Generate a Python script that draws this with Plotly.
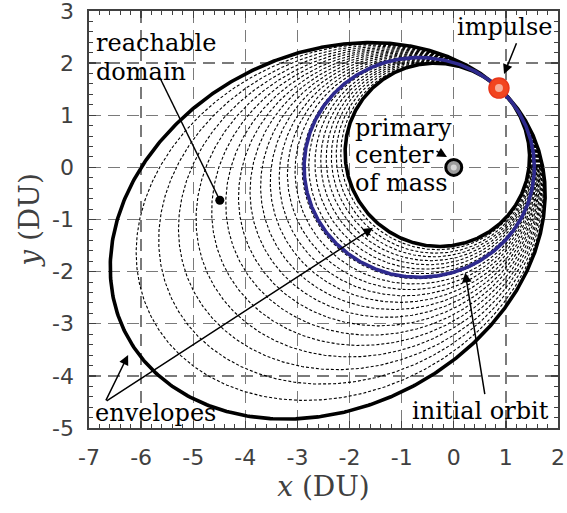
import numpy as np
import plotly.graph_objects as go

# ---------------- data ----------------
mu = 1.0
initial_a = 2.21            # DU, semi-major axis of initial orbit
initial_e = 0.30            # eccentricity of initial orbit
initial_omega_deg = 0.0     # argument of periapsis (deg)
impulse_true_anomaly_deg = 60.3

# speed ratio (v_after / v_before) of the tangential impulse at the impulse point
inner_envelope_ratio = 0.919
outer_envelope_ratio = 1.150
dotted_ratios = [0.9295, 0.9400, 0.9505, 0.9610, 0.9715, 0.9820, 0.9925,
                 1.0030, 1.0135, 1.0240, 1.0345, 1.0450, 1.0555, 1.0660,
                 1.0765, 1.0870, 1.0975, 1.1080, 1.1185, 1.1290, 1.1395]

primary_x = [0.0]
primary_y = [0.0]
reachable_pt_x = [-4.49]
reachable_pt_y = [-0.63]

x_ticks = [-7, -6, -5, -4, -3, -2, -1, 0, 1, 2]
y_ticks = [-5, -4, -3, -2, -1, 0, 1, 2, 3]


# ---------------- orbit helpers ----------------
def state_on_orbit(a, e, om, f):
    p = a * (1 - e ** 2)
    r = p / (1 + e * np.cos(f))
    th = om + f
    R = np.array([r * np.cos(th), r * np.sin(th)])
    vr = np.sqrt(mu / p) * e * np.sin(f)
    vt = np.sqrt(mu / p) * (1 + e * np.cos(f))
    V = vr * np.array([np.cos(th), np.sin(th)]) + vt * np.array([-np.sin(th), np.cos(th)])
    return R, V


def conic_from_state(R, V):
    r = np.linalg.norm(R)
    v2 = V @ V
    h = R[0] * V[1] - R[1] * V[0]
    evec = ((v2 - mu / r) * R - (R @ V) * V) / mu
    e = np.linalg.norm(evec)
    om = np.arctan2(evec[1], evec[0])
    p = h * h / mu
    th = np.linspace(0, 2 * np.pi, 900)
    rr = p / (1 + e * np.cos(th - om))
    return rr * np.cos(th), rr * np.sin(th)


R0, V0 = state_on_orbit(initial_a, initial_e, np.radians(initial_omega_deg),
                        np.radians(impulse_true_anomaly_deg))

fig = go.Figure()

for k in dotted_ratios:
    xs, ys = conic_from_state(R0, k * V0)
    fig.add_trace(go.Scatter(x=xs, y=ys, mode='lines',
                             line=dict(color='black', width=1.1, dash='3px,2px'),
                             hoverinfo='skip'))

for k in (inner_envelope_ratio, outer_envelope_ratio):
    xs, ys = conic_from_state(R0, k * V0)
    fig.add_trace(go.Scatter(x=xs, y=ys, mode='lines',
                             line=dict(color='black', width=3.6), hoverinfo='skip'))

xs, ys = conic_from_state(R0, V0)
fig.add_trace(go.Scatter(x=xs, y=ys, mode='lines',
                         line=dict(color='#2e2a8e', width=3.6), hoverinfo='skip'))

# primary body
fig.add_trace(go.Scatter(x=primary_x, y=primary_y, mode='markers',
                         marker=dict(size=16, color='#9c9c9c', line=dict(color='black', width=3))))
fig.add_trace(go.Scatter(x=primary_x, y=primary_y, mode='markers',
                         marker=dict(size=6, color='#d6d6d6', line=dict(width=0))))
# impulse point
fig.add_trace(go.Scatter(x=[R0[0]], y=[R0[1]], mode='markers',
                         marker=dict(size=20, color='#f2451f', line=dict(color='#e8361a', width=1.5))))
fig.add_trace(go.Scatter(x=[R0[0]], y=[R0[1]], mode='markers',
                         marker=dict(size=8, color='#f8ad98', line=dict(width=0))))
# reachable-domain marker
fig.add_trace(go.Scatter(x=reachable_pt_x, y=reachable_pt_y, mode='markers',
                         marker=dict(size=9, color='black')))

txt_font = dict(family='DejaVu Serif', size=24, color='black')
ann = []


def label(x, y, t, anchor='left'):
    ann.append(dict(x=x, y=y, xref='x', yref='y', text=t, showarrow=False,
                    xanchor=anchor, yanchor='middle', font=txt_font))


def arrow(xh, yh, xt, yt, head=2):
    ann.append(dict(x=xh, y=yh, ax=xt, ay=yt, xref='x', yref='y', axref='x', ayref='y',
                    text='', showarrow=True, arrowhead=head, arrowsize=1.3,
                    arrowwidth=1.5, arrowcolor='black'))


label(-6.90, 2.39, 'reachable')
label(-6.90, 1.83, 'domain')
label(1.93, 2.69, 'impulse', 'right')
label(-1.93, 0.75, 'primary')
label(-1.93, 0.24, 'center')
label(-1.93, -0.30, 'of mass')
label(1.86, -4.68, 'initial orbit', 'right')
label(-6.93, -4.72, 'envelopes')

arrow(0.965, 1.79, 1.215, 2.41)
arrow(-0.13, 0.20, -0.36, 0.33)
arrow(0.22, -2.02, 0.60, -4.38)
arrow(-6.25, -3.60, -6.69, -4.50)
arrow(-1.55, -1.16, -6.69, -4.50)

fig.add_shape(type='line', x0=-5.64, y0=1.72, x1=reachable_pt_x[0], y1=reachable_pt_y[0],
              xref='x', yref='y', line=dict(color='black', width=1.5))

axis_common = dict(
    ticks='inside', ticklen=7, tickwidth=1.3, tickcolor='#404040',
    showline=True, linecolor='#404040', linewidth=1.6, mirror='ticks',
    showgrid=True, gridcolor='#7a7a7a', gridwidth=1.4, griddash='12px,7px',
    zeroline=False, automargin=False, ticklabeloverflow='allow',
    minor=dict(ticks='inside', ticklen=4, tickmode='linear', tick0=0, dtick=0.2,
               tickcolor='#404040', tickwidth=1, showgrid=False),
    tickfont=dict(family='DejaVu Sans', size=22, color='#404040'),
)

fig.update_xaxes(range=[-7.0005, 2.0005], tickmode='array', tickvals=x_ticks,
                 ticktext=[str(v) for v in x_ticks], ticklabelstandoff=9,
                 title=dict(text='<i>x</i> (DU)', standoff=6,
                            font=dict(family='DejaVu Serif', size=28, color='#404040')),
                 **axis_common)
fig.update_yaxes(range=[-5.0005, 3.0005], tickmode='array', tickvals=y_ticks,
                 ticktext=[str(v) for v in y_ticks], ticklabelstandoff=9,
                 title=dict(text='<i>y</i> (DU)', standoff=4,
                            font=dict(family='DejaVu Serif', size=28, color='#404040')),
                 **axis_common)

fig.update_layout(width=567, height=513, autosize=False,
                  margin=dict(l=89, r=9, t=11, b=85, autoexpand=False),
                  plot_bgcolor='white', paper_bgcolor='white',
                  showlegend=False, annotations=ann)

fig.write_html('out.html', config={'displayModeBar': False, 'staticPlot': True},
               post_script="document.body.style.margin='0px';document.body.style.overflow='hidden';")
